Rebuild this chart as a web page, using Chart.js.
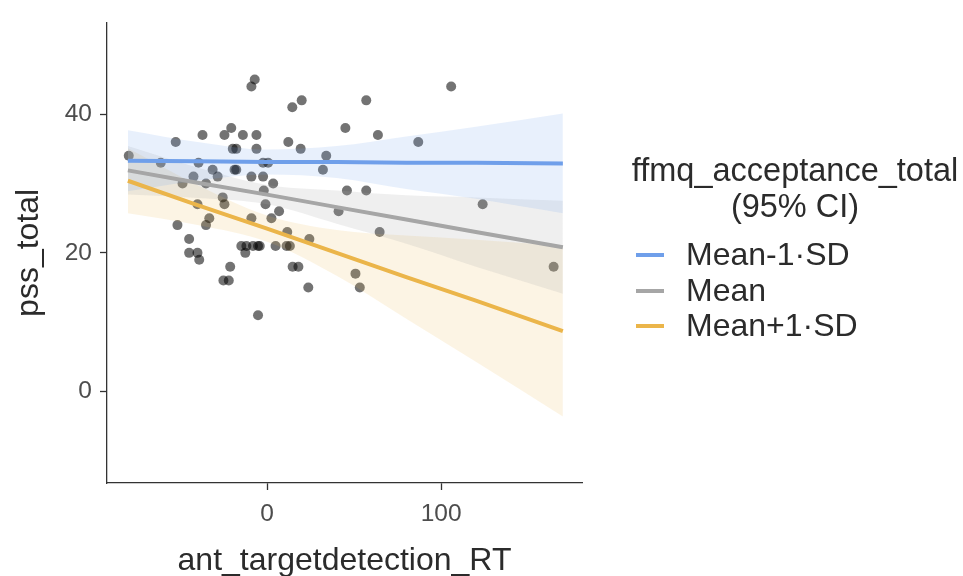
<!DOCTYPE html>
<html>
<head>
<meta charset="utf-8">
<script src="https://cdn.jsdelivr.net/npm/chart.js@4.4.1/dist/chart.umd.min.js"></script>
<style>
html,body{margin:0;padding:0;background:#fff;overflow:hidden;}
#wrap{position:relative;width:963px;height:600px;}
#legend{position:absolute;left:0;top:0;font-family:"Liberation Sans",Arial,sans-serif;color:#2b2b2b;font-size:32px;}
#legend .ttl{position:absolute;left:620px;top:152px;width:350px;text-align:center;line-height:36px;font-size:32.5px;}
#legend .item{position:absolute;left:686px;line-height:36px;white-space:nowrap;}
#legend .key{position:absolute;left:636px;width:28px;height:4px;}
</style>
</head>
<body>
<div id="wrap">
  <canvas id="chart" width="963" height="600"></canvas>
  <div id="legend"></div>
</div>
<script>
// scatter points (ant_targetdetection_RT, pss_total)
const rtValues = [-7.1,-9.0,19.9,14.5,-20.6,-37.1,-24.5,-13.9,-6.1,45.0,-52.5,12.2,-19.7,-17.7,-6.1,19.3,-79.5,34.0,-61.1,-39.4,
  -2.3,0.6,-18.7,-17.7,-31.3,32.1,-42.3,-28.4,-9.0,-2.3,-35.1,3.5,-48.6,-1.9,45.9,-25.5,-24.5,-40.0,-0.9,41.1,
  6.9,-33.2,-9.0,2.5,-35.1,-51.5,11.6,24.3,-44.8,-14.8,-11.9,-8.1,-5.2,-4.2,4.9,11.2,13.1,-12.5,-44.8,-40.0,
  -39.0,-21.2,-25.1,-22.0,14.7,18.0,23.7,-5.2,57.0,105.8,63.7,86.9,57.0,123.9,64.7,50.8,53.3,164.7];
const pssValues = [45,44,42,41,38,37,37,37,37,38,36,36,35,35,35,35,34,34,33,33,
  33,33,32,32,32,32,31,31,31,31,30,30,30,29,29,28,27,27,27,26,
  26,25,25,25,24,24,23,22,22,21,21,21,21,21,21,21,21,20,20,20,
  19,18,16,16,18,18,15,11,42,44,37,36,29,27,23,17,15,18];

// fitted lines and 95% CI at these x positions
const fitX = [-80,-40,0,40,80,120,170];
const lowFit   = [33.3,33.2,33.1,33.1,33.0,33.0,32.9];
const lowLower = [28.9,30.4,31.3,30.8,29.2,27.8,25.7];
const lowUpper = [37.7,36.0,34.9,35.4,36.8,38.2,40.1];
const meanFit   = [31.9,30.1,28.4,26.6,24.8,23.0,20.8];
const meanLower = [28.4,27.9,27.0,24.2,21.3,18.0,14.1];
const meanUpper = [35.4,32.3,29.8,29.0,28.3,28.0,27.5];
const highFit   = [30.4,26.9,23.5,20.0,16.5,13.1,8.7];
const highLower = [25.7,24.0,21.6,16.7,10.5,4.3,-3.6];
const highUpper = [35.1,29.8,25.4,23.3,22.5,21.9,21.0];

const seriesNames = ["Mean-1\u00B7SD","Mean","Mean+1\u00B7SD"];
const seriesColors = ["#6f9fea","#a6a6a6","#ebb54a"];
const bandColors = ["rgba(111,159,234,0.16)","rgba(166,166,166,0.18)","rgba(235,181,74,0.15)"];

const xTicks = [0,100];
const yTicks = [0,20,40];

const family = "'Liberation Sans', Arial, sans-serif";

function pts(xs, ys){ return xs.map((x,i)=>({x:x,y:ys[i]})); }

const fits = [lowFit, meanFit, highFit];
const lowers = [lowLower, meanLower, highLower];
const uppers = [lowUpper, meanUpper, highUpper];

let datasets = [{
  label: "points",
  data: pts(rtValues, pssValues),
  showLine: false,
  pointRadius: 5,
  pointBackgroundColor: "rgba(0,0,0,0.55)",
  pointBorderWidth: 0,
  order: 10
}];

for (let i = 0; i < 3; i++) {
  datasets.push({
    label: seriesNames[i] + " lower",
    data: pts(fitX, lowers[i]),
    borderWidth: 0, pointRadius: 0, fill: false,
    cubicInterpolationMode: "monotone",
    order: 5
  });
  datasets.push({
    label: seriesNames[i] + " upper",
    data: pts(fitX, uppers[i]),
    borderWidth: 0, pointRadius: 0,
    fill: "-1",
    backgroundColor: bandColors[i],
    cubicInterpolationMode: "monotone",
    order: 5
  });
}
for (let i = 0; i < 3; i++) {
  datasets.push({
    label: seriesNames[i],
    data: pts(fitX, fits[i]),
    borderColor: seriesColors[i],
    borderWidth: 4,
    pointRadius: 0,
    fill: false,
    order: 1
  });
}

new Chart(document.getElementById("chart"), {
  type: "line",
  data: { datasets: datasets },
  options: {
    responsive: false,
    animation: false,
    layout: { padding: { left: 0, top: 17, right: 381, bottom: 0 } },
    plugins: { legend: { display: false }, tooltip: { enabled: false } },
    scales: {
      x: {
        type: "linear", min: -92, max: 181,
        afterBuildTicks: s => { s.ticks = xTicks.map(v => ({ value: v })); },
        afterFit: s => { s.height = 117; },
        grid: { drawOnChartArea: false, drawTicks: true, tickLength: 7, tickColor: "#333", tickWidth: 1.3 },
        border: { display: true, color: "#333", width: 1.3 },
        ticks: { color: "#4d4d4d", font: { size: 24.5, family: family }, padding: 10 },
        title: { display: true, text: "ant_targetdetection_RT", color: "#2b2b2b",
          font: { size: 32, family: family }, padding: { top: 0, bottom: 20 } }
      },
      y: {
        type: "linear", min: -13.2, max: 53.2,
        afterBuildTicks: s => { s.ticks = yTicks.map(v => ({ value: v })); },
        afterFit: s => { s.width = 107; },
        grid: { drawOnChartArea: false, drawTicks: true, tickLength: 7, tickColor: "#333", tickWidth: 1.3 },
        border: { display: true, color: "#333", width: 1.3 },
        ticks: { color: "#4d4d4d", font: { size: 24.5, family: family }, padding: 8 },
        title: { display: true, text: "pss_total", color: "#2b2b2b",
          font: { size: 32, family: family }, padding: { top: 10, bottom: 0 } }
      }
    }
  }
});

// legend
const legend = document.getElementById("legend");
let html = '<div class="ttl">ffmq_acceptance_total<br>(95% CI)</div>';
const rowTops = [236, 272, 307];
seriesNames.forEach((name, i) => {
  html += '<span class="key" style="background:' + seriesColors[i] + ';top:' + (rowTops[i] + 17) + 'px"></span>';
  html += '<div class="item" style="top:' + rowTops[i] + 'px">' + name + '</div>';
});
legend.innerHTML = html;
</script>
</body>
</html>
